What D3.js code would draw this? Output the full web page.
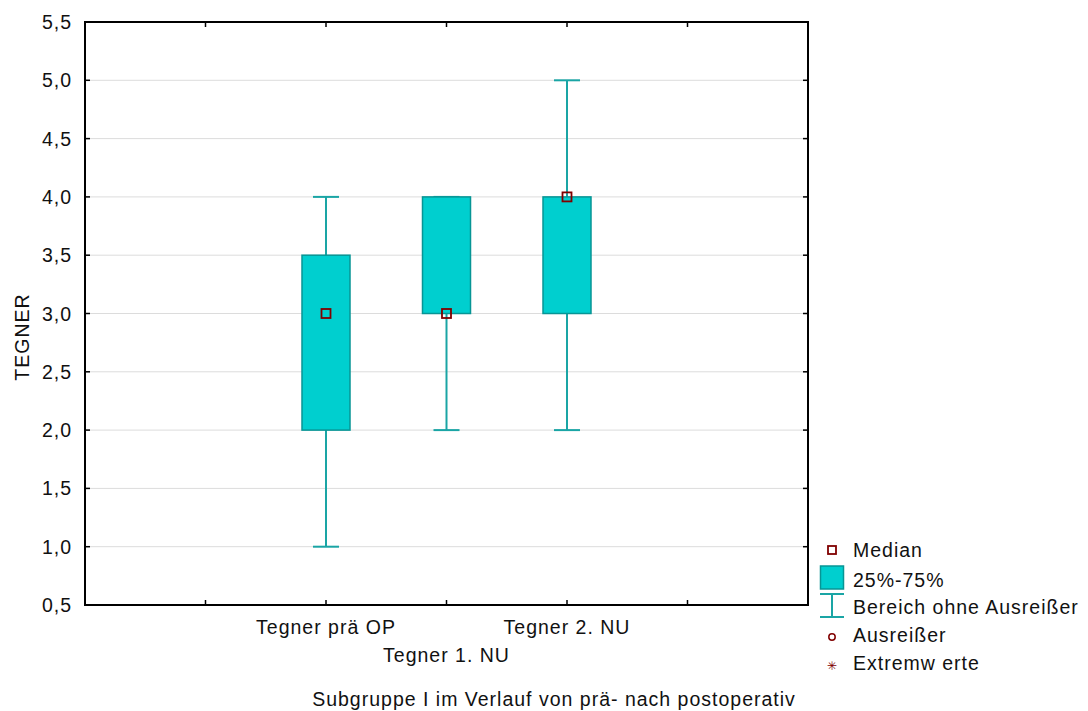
<!DOCTYPE html>
<html lang="en">
<head>
<meta charset="utf-8">
<title>Tegner Boxplot</title>
<script src="https://d3js.org/d3.v7.min.js"></script>
<style>
  body { margin: 0; background: #fff; }
  text { font-family: "Liberation Sans", Arial, sans-serif; fill: #111; font-size: 19.5px; letter-spacing: 1px; }
</style>
</head>
<body>
<script>
// data
const categories = ["Tegner prä OP", "Tegner 1. NU", "Tegner 2. NU"];
const positions = [2, 3, 4];
const medians = [3.0, 3.0, 4.0];
const q1 = [2.0, 3.0, 3.0];
const q3 = [3.5, 4.0, 4.0];
const whiskLow = [1.0, 2.0, 2.0];
const whiskHigh = [4.0, 4.0, 5.0];
const yTicks = [0.5, 1.0, 1.5, 2.0, 2.5, 3.0, 3.5, 4.0, 4.5, 5.0, 5.5];
const legendItems = ["Median", "25%-75%", "Bereich ohne Ausreißer", "Ausreißer", "Extremw erte"];

const width = 1088, height = 711;
const m = {left: 85, top: 22, right: 808, bottom: 605};

const svg = d3.select("body").append("svg")
  .attr("width", width).attr("height", height);

const x = d3.scaleLinear().domain([0, 6]).range([m.left, m.right]);
const y = d3.scaleLinear().domain([0.5, 5.5]).range([m.bottom, m.top]);

const fmt = d => d.toFixed(1).replace(".", ",");

// gridlines
svg.append("g").selectAll("line")
  .data(yTicks.slice(1, -1))
  .join("line")
  .attr("x1", m.left).attr("x2", m.right)
  .attr("y1", d => y(d)).attr("y2", d => y(d))
  .attr("stroke", "#dcdcdc").attr("stroke-width", 1);

// y axis labels
svg.append("g").selectAll("text")
  .data(yTicks)
  .join("text")
  .attr("x", m.left - 13).attr("y", d => y(d) + 7)
  .attr("text-anchor", "end")
  .text(fmt);

// inner ticks on all four sides
const tk = svg.append("g").attr("stroke", "#000").attr("stroke-width", 1.5);
yTicks.forEach(v => {
  tk.append("line").attr("x1", m.left).attr("x2", m.left + 5).attr("y1", y(v)).attr("y2", y(v));
  tk.append("line").attr("x1", m.right - 5).attr("x2", m.right).attr("y1", y(v)).attr("y2", y(v));
});
[1, 2, 3, 4, 5].forEach(v => {
  tk.append("line").attr("x1", x(v)).attr("x2", x(v)).attr("y1", m.bottom).attr("y2", m.bottom - 5);
  tk.append("line").attr("x1", x(v)).attr("x2", x(v)).attr("y1", m.top).attr("y2", m.top + 5);
});

// frame
svg.append("rect")
  .attr("x", m.left).attr("y", m.top)
  .attr("width", m.right - m.left).attr("height", m.bottom - m.top)
  .attr("fill", "none").attr("stroke", "#000").attr("stroke-width", 2);

// boxes
const boxW = 48, capW = 26;
const whiskColor = "#1aa5a5", boxStroke = "#079595", boxFill = "#00cfcf";
const bx = svg.append("g");
categories.forEach((c, i) => {
  const cx = x(positions[i]);
  bx.append("line").attr("x1", cx).attr("x2", cx)
    .attr("y1", y(whiskLow[i])).attr("y2", y(whiskHigh[i]))
    .attr("stroke", whiskColor).attr("stroke-width", 2);
  [whiskLow[i], whiskHigh[i]].forEach(v => {
    bx.append("line").attr("x1", cx - capW / 2).attr("x2", cx + capW / 2)
      .attr("y1", y(v)).attr("y2", y(v))
      .attr("stroke", whiskColor).attr("stroke-width", 2);
  });
  bx.append("rect")
    .attr("x", cx - boxW / 2).attr("y", y(q3[i]))
    .attr("width", boxW).attr("height", y(q1[i]) - y(q3[i]))
    .attr("fill", boxFill).attr("stroke", boxStroke).attr("stroke-width", 1.5);
  bx.append("rect")
    .attr("x", cx - 4.5).attr("y", y(medians[i]) - 4.5)
    .attr("width", 9).attr("height", 9)
    .attr("fill", "none").attr("stroke", "#800000").attr("stroke-width", 1.8);
});

// category labels, staggered
svg.append("g").selectAll("text")
  .data(categories)
  .join("text")
  .attr("x", (d, i) => x(positions[i]))
  .attr("y", (d, i) => i % 2 === 0 ? 634 : 662)
  .attr("text-anchor", "middle")
  .text(d => d);

// axis titles
svg.append("text")
  .attr("transform", "translate(29,337) rotate(-90)")
  .attr("text-anchor", "middle")
  .text("TEGNER");

svg.append("text")
  .attr("x", 554).attr("y", 706)
  .attr("text-anchor", "middle")
  .text("Subgruppe I im Verlauf von prä- nach postoperativ");

// legend
const lg = svg.append("g");
const ly = [550, 577, 605, 637, 665];
const base = [557, 587, 614, 642, 670];
const lx = 832;
lg.append("rect").attr("x", lx - 4).attr("y", ly[0] - 4).attr("width", 8).attr("height", 8)
  .attr("fill", "none").attr("stroke", "#800000").attr("stroke-width", 1.8);
lg.append("rect").attr("x", lx - 11.5).attr("y", ly[1] - 11).attr("width", 23).attr("height", 23)
  .attr("fill", boxFill).attr("stroke", boxStroke).attr("stroke-width", 1.5);
lg.append("line").attr("x1", lx - 12).attr("x2", lx + 12).attr("y1", ly[2] - 11).attr("y2", ly[2] - 11)
  .attr("stroke", whiskColor).attr("stroke-width", 2);
lg.append("line").attr("x1", lx - 12).attr("x2", lx + 12).attr("y1", ly[2] + 12).attr("y2", ly[2] + 12)
  .attr("stroke", whiskColor).attr("stroke-width", 2);
lg.append("line").attr("x1", lx).attr("x2", lx).attr("y1", ly[2] - 11).attr("y2", ly[2] + 12)
  .attr("stroke", whiskColor).attr("stroke-width", 2);
lg.append("circle").attr("cx", lx).attr("cy", ly[3]).attr("r", 3.2)
  .attr("fill", "none").attr("stroke", "#800000").attr("stroke-width", 1.5);
lg.append("text").attr("x", lx).attr("y", ly[4] + 5).attr("text-anchor", "middle")
  .style("font-size", "12px").style("letter-spacing", "0px").style("fill", "#800000").text("✳");

lg.selectAll("text.lab")
  .data(legendItems)
  .join("text").attr("class", "lab")
  .attr("x", 853).attr("y", (d, i) => base[i])
  .text(d => d);
</script>
</body>
</html>
